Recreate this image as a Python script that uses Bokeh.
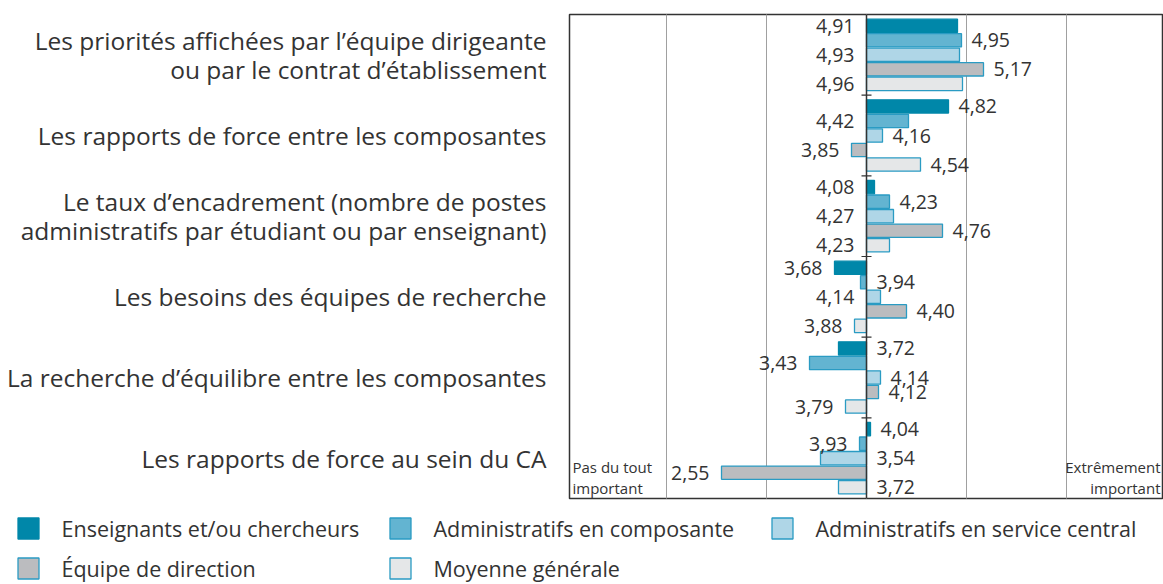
from bokeh.plotting import figure
from bokeh.models import Range1d, FixedTicker, Grid, Span, ColumnDataSource, Label
from bokeh.layouts import column
from bokeh.embed import file_html
from bokeh.resources import INLINE
from bokeh.core.properties import value

# ---------------- data ----------------
categories = [
    ["Les priorités affichées par l’équipe dirigeante", "ou par le contrat d’établissement"],
    ["Les rapports de force entre les composantes"],
    ["Le taux d’encadrement (nombre de postes", "administratifs par étudiant ou par enseignant)"],
    ["Les besoins des équipes de recherche"],
    ["La recherche d’équilibre entre les composantes"],
    ["Les rapports de force au sein du CA"],
]
series_names = [
    "Enseignants et/ou chercheurs",
    "Administratifs en composante",
    "Administratifs en service central",
    "Équipe de direction",
    "Moyenne générale",
]
enseignants = [4.91, 4.82, 4.08, 3.68, 3.72, 4.04]
admin_composante = [4.95, 4.42, 4.23, 3.94, 3.43, 3.93]
admin_central = [4.93, 4.16, 4.27, 4.14, 4.14, 3.54]
direction = [5.17, 3.85, 4.76, 4.40, 4.12, 2.55]
moyenne = [4.96, 4.54, 4.23, 3.88, 3.79, 3.72]
baseline = 4.0
scale_min, scale_max = 1, 7
scale_left_label = ["Pas du tout", "important"]
scale_right_label = ["Extrêmement", "important"]

# label side per category (L = left side, R = right side)
label_side = [
    ["L", "R", "L", "R", "L"],
    ["R", "L", "R", "L", "R"],
    ["L", "R", "L", "R", "L"],
    ["L", "R", "L", "R", "L"],
    ["R", "L", "R", "R", "L"],
    ["R", "L", "R", "L", "R"],
]

# ---------------- styles ----------------
fills = ["#0087A9", "#63B4D1", "#AFD6E7", "#BBBCBF", "#E5E7E8"]
outline = "#2A9BC3"
lines = ["#0087A9", outline, outline, outline, outline]
FONT = "Open Sans"
TXT = "#333333"

all_series = [enseignants, admin_composante, admin_central, direction, moyenne]
n_cat = len(categories)

p = figure(width=1163, height=500,
           x_range=Range1d(1.03, 6.97), y_range=Range1d(n_cat, 0),
           output_backend="svg", toolbar_location=None,
           x_axis_location=None,
           min_border_left=569, min_border_right=0,
           min_border_top=14, min_border_bottom=2)
p.frame_align = False
p.background_fill_color = "white"
p.outline_line_color = "#333333"
p.outline_line_width = 1.5
p.ygrid.visible = False
p.add_layout(Grid(dimension=0, ticker=FixedTicker(ticks=[2, 3, 5, 6]),
                  grid_line_color="#a0a0a0", grid_line_width=1))

pitch = 0.18
for j, vals in enumerate(all_series):
    ys = [i + 0.14 + pitch * j for i in range(n_cat)]
    src = ColumnDataSource(dict(y=ys, right=vals))
    p.hbar(y="y", left=baseline, right="right", height=0.165, source=src,
           fill_color=fills[j], line_color=lines[j], line_width=1.3)

# value labels
lx, ly, lt, rx, ry, rt = [], [], [], [], [], []
for j, vals in enumerate(all_series):
    for i, v in enumerate(vals):
        y = i + 0.14 + pitch * j
        t = f"{v:.2f}".replace(".", ",")
        if label_side[i][j] == "L":
            lx.append(min(v, baseline)); ly.append(y); lt.append(t)
        else:
            rx.append(max(v, baseline)); ry.append(y); rt.append(t)
p.text(x=lx, y=ly, text=lt, text_align="right", text_baseline="middle",
       x_offset=-12, text_font=value(FONT), text_font_size="19.5px", text_color=TXT)
p.text(x=rx, y=ry, text=rt, text_align="left", text_baseline="middle",
       x_offset=10, text_font=value(FONT), text_font_size="19.5px", text_color=TXT)

# central axis with cross ticks
p.add_layout(Span(location=baseline, dimension="height", line_color="#333333", line_width=1.5))
bounds = list(range(1, n_cat))
p.segment(x0=[baseline - 0.05] * len(bounds), x1=[baseline + 0.05] * len(bounds),
          y0=bounds, y1=bounds, line_color="#333333", line_width=1.2)

# category labels on y axis (one tick per text line)
line_gap = 0.18
ticks, overrides = [], {}
for i, lines_txt in enumerate(categories):
    n = len(lines_txt)
    for k, t in enumerate(lines_txt):
        pos = round(i + 0.5 + (k - (n - 1) / 2) * 2 * line_gap, 4)
        ticks.append(pos)
        overrides[pos] = t
p.yaxis.ticker = FixedTicker(ticks=ticks)
p.yaxis.major_label_overrides = overrides
p.yaxis.axis_line_color = None
p.yaxis.major_tick_line_color = None
p.yaxis.minor_tick_line_color = None
p.yaxis.major_label_standoff = 17
p.yaxis.major_label_text_font = FONT
p.yaxis.major_label_text_font_size = "24.5px"
p.yaxis.major_label_text_color = TXT

# scale end labels
for k, t in enumerate(scale_left_label):
    p.add_layout(Label(x=scale_min + 0.06, y=n_cat - 0.39 + 0.26 * k, text=t,
                       text_align="left", text_baseline="middle",
                       text_font=FONT, text_font_size="15px", text_color=TXT))
for k, t in enumerate(scale_right_label):
    p.add_layout(Label(x=scale_max - 0.06, y=n_cat - 0.39 + 0.26 * k, text=t,
                       text_align="right", text_baseline="middle",
                       text_font=FONT, text_font_size="15px", text_color=TXT))

# ---------------- legend ----------------
lg = figure(width=1163, height=84, x_range=Range1d(0, 1163), y_range=Range1d(84, 0),
            output_backend="svg", toolbar_location=None,
            x_axis_location=None, y_axis_location=None,
            min_border_left=0, min_border_right=0, min_border_top=0, min_border_bottom=0)
lg.frame_align = False
lg.outline_line_color = None
lg.grid.visible = False
for r in list(lg.center):
    r.visible = False
col_x = [28, 400, 782]
row_y = [28, 68]
for j, name in enumerate(series_names):
    cx = col_x[j % 3]
    cy = row_y[j // 3]
    lg.rect(x=[cx], y=[cy], width=21, height=21, width_units="screen", height_units="screen",
            fill_color=fills[j], line_color=lines[j], line_width=1.3)
    lg.text(x=[cx + 33], y=[cy], text=[name], text_align="left", text_baseline="middle",
            text_font=value(FONT), text_font_size="21.5px", text_color=TXT)

layout = column(p, lg, spacing=0)
open("out.html", "w").write(file_html(layout, INLINE))
